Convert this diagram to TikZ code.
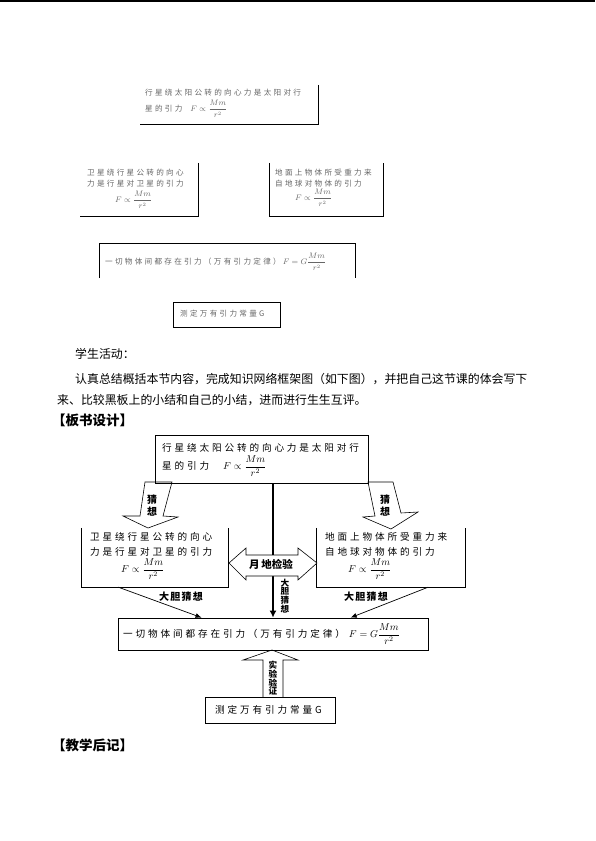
\documentclass[tikz,border=0pt]{standalone}
\usepackage{amsmath}
\usepackage{fontspec}
\usetikzlibrary{arrows.meta,calc}
\newfontfamily\cjk{Noto Sans CJK SC}
\newfontfamily\cjkwide[LetterSpace=30]{Noto Sans CJK SC}
\newfontfamily\cjktag[LetterSpace=12]{Noto Sans CJK SC}
\newcommand\bodyfont{\cjk\fontsize{11.9}{14}\selectfont}
\newcommand\headfont{\cjk\bfseries\fontsize{13.5}{16}\selectfont}
\newcommand\boxfont{\cjkwide\fontsize{9.6}{12}\selectfont}
\newcommand\faintfont{\cjkwide\fontsize{7.6}{9}\selectfont}
\newcommand\tagfont{\cjktag\bfseries\fontsize{10}{11}\selectfont}
\newcommand\vtagfont{\cjk\bfseries\fontsize{8.6}{8.2}\selectfont}
\newcommand\guessfont{\cjk\bfseries\fontsize{10}{12}\selectfont}
\tikzset{
  body/.style={font=\bodyfont, anchor=west, inner sep=0pt},
  head/.style={font=\headfont, anchor=west, inner sep=0pt},
  txt/.style={font=\boxfont, anchor=west, inner sep=0pt},
  faint/.style={font=\faintfont, text=black!60, anchor=west, inner sep=0pt},
  frame/.style={draw, line width=0.8pt, inner sep=0pt},
  rim/.style={inner sep=0pt},
  rimline/.style={line width=0.8pt},
  hollow/.style={draw, line width=0.6pt},
  tag/.style={font=\tagfont, inner sep=0pt},
  vtag/.style={font=\vtagfont, align=center, inner sep=0pt},
  guess/.style={font=\guessfont, align=center, inner sep=0pt},
}
\begin{document}
\begin{tikzpicture}[x=1pt,y=-1pt]
  \useasboundingbox (0,0) rectangle (595,841);
  \draw[line width=1.5pt] (0,1) -- (595,1);

  % first sketch, faint copy
  \node[rim, minimum width=178pt, minimum height=39pt] (sunA) at (229,104.5) {};
  \draw[rimline] (sunA.north east) -- (sunA.south east) -- (sunA.south west);
  \node[faint] (sunA1) at (145,93) {行星绕太阳公转的向心力是太阳对行};
  \node[faint] (sunA2) at (145,109) {星的引力\hspace{8pt}$F\propto\dfrac{Mm}{r^2}$};

  \node[rim, minimum width=118pt, minimum height=53pt] (moonA) at (139,189.5) {};
  \draw[rimline] (moonA.north east) -- (moonA.south east) -- (moonA.south west);
  \node[faint] (moonA1) at (87,173) {卫星绕行星公转的向心};
  \node[faint] (moonA2) at (87,184) {力是行星对卫星的引力};
  \node[faint] (moonA3) at (115,200) {$F\propto\dfrac{Mm}{r^2}$};

  \node[rim, minimum width=113pt, minimum height=53pt] (earthA) at (326.5,189.5) {};
  \draw[rimline] (earthA.north west) -- (earthA.south west) -- (earthA.south east) -- (earthA.north east);
  \node[faint] (earthA1) at (275,173) {地面上物体所受重力来};
  \node[faint] (earthA2) at (275,184) {自地球对物体的引力};
  \node[faint] (earthA3) at (295,198) {$F\propto\dfrac{Mm}{r^2}$};

  \node[rim, minimum width=255pt, minimum height=34pt] (lawA) at (227.5,261) {};
  \draw[rimline] (lawA.south west) -- (lawA.north west) -- (lawA.north east) -- (lawA.south east);
  \node[faint] (lawA1) at (105,262) {一切物体间都存在引力（万有引力定律）\hspace{2pt}$F=G\dfrac{Mm}{r^2}$};

  \node[frame, minimum width=107pt, minimum height=25pt] (gA) at (226.5,314.5) {};
  \node[faint] (gA1) at (180,314) {测定万有引力常量G};

  % student activity
  \node[body] (act) at (75,354) {学生活动：};
  \node[body] (task1) at (75,379) {认真总结概括本节内容，完成知识网络框架图（如下图），并把自己这节课的体会写下};
  \node[body] (task2) at (57,400) {来、比较黑板上的小结和自己的小结，进而进行生生互评。};
  \node[head] (board) at (52,420) {【板书设计】};

  % board layout
  \node[frame, minimum width=213pt, minimum height=48pt] (sun) at (261.5,459) {};
  \node[txt] (sun1) at (162,448) {行星绕太阳公转的向心力是太阳对行};
  \node[txt] (sun2) at (162,466) {星的引力\hspace{14pt}$F\propto\dfrac{Mm}{r^2}$};

  \node[rim, minimum width=146pt, minimum height=59pt] (moon) at (155,557.5) {};
  \draw[rimline] (moon.north west) -- (moon.south west) -- (moon.south east) -- (moon.north east);
  \node[txt] (moon1) at (90,537) {卫星绕行星公转的向心};
  \node[txt] (moon2) at (90,552) {力是行星对卫星的引力};
  \node[txt] (moon3) at (121,569) {$F\propto\dfrac{Mm}{r^2}$};

  \node[rim, minimum width=148pt, minimum height=59pt] (earth) at (391,557.5) {};
  \draw[rimline] (earth.north west) -- (earth.south west) -- (earth.south east) -- (earth.north east);
  \node[txt] (earth1) at (325,537) {地面上物体所受重力来};
  \node[txt] (earth2) at (325,552) {自地球对物体的引力};
  \node[txt] (earth3) at (348,569) {$F\propto\dfrac{Mm}{r^2}$};

  \node[frame, minimum width=310pt, minimum height=32pt] (law) at (273,634) {};
  \node[txt] (law1) at (123,634) {一切物体间都存在引力（万有引力定律）\hspace{4pt}$F=G\dfrac{Mm}{r^2}$};

  \node[frame, minimum width=130pt, minimum height=26pt] (gconst) at (270,710) {};
  \node[txt] (gconst1) at (215,710) {测定万有引力常量G};

  % connectors
  \coordinate (spine) at (273,0);
  \draw[line width=2.6pt, -{Latex[length=7pt,width=7pt]}] (spine |- sun.south) -- (spine |- law.north);
  \draw[line width=0.7pt, -{Latex[length=6pt,width=5pt]}]
    ($(moon.south west)!0.25!(moon.south east)$) -- ($(law.north west)!0.27!(law.north east)$);
  \draw[line width=0.7pt, -{Latex[length=6pt,width=5pt]}]
    ($(earth.south west)!0.75!(earth.south east)$) -- ($(law.north west)!0.75!(law.north east)$);
  \node[tag] (boldL) at (181,597) {大胆猜想};
  \node[tag] (boldR) at (366,597) {大胆猜想};
  \node[vtag] (boldM) at (285,596) {大\\胆\\猜\\想};

  % hollow block arrows
  \draw[hollow] (145,482) -- (172,482) -- (163,516) -- (178,517) -- (148,528) -- (123,516) -- (140,516) -- cycle;
  \node[guess] (guessL) at (152,506) {猜\\想};
  \draw[hollow] (368,482) -- (393,482) -- (401,513) -- (418,512) -- (391,529) -- (363,517) -- (375,516) -- cycle;
  \node[guess] (guessR) at (385,506) {猜\\想};

  \draw[hollow, fill=white] (229,563) -- (246,548) -- (246,555) -- (298,555) -- (298,548) -- (317,563)
    -- (298,580) -- (298,576) -- (246,576) -- (246,580) -- cycle;
  \node[tag, font=\cjk\bfseries\fontsize{10.5}{12}\selectfont] (check) at (271,564) {月\,地检验};

  \draw[hollow] (263,697) -- (263,660) -- (243,660) -- (272,650) -- (298,660) -- (283,660) -- (283,697);
  \node[vtag] (verify) at (273,678) {实\\验\\验\\证};

  \node[head] (notes) at (52,745) {【教学后记】};
\end{tikzpicture}
\end{document}
